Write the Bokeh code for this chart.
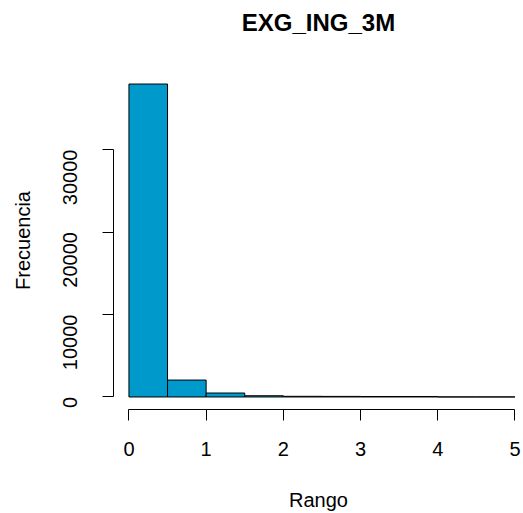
import math
from bokeh.plotting import figure
from bokeh.models import Range1d, FixedTicker, Title
from bokeh.embed import file_html
from bokeh.resources import INLINE

# Histogram of EXG_ING_3M: bin edges and counts per bin
breaks = [0.0, 0.5, 1.0, 1.5, 2.0, 2.5, 3.0, 3.5, 4.0, 4.5, 5.0]
counts = [37950, 2050, 480, 150, 80, 70, 60, 60, 10, 10]
x_ticks = [0, 1, 2, 3, 4, 5]
y_ticks = [0, 10000, 20000, 30000]

FONT = "Liberation Sans"
BAR_FILL = "#0099CC"

ymax = max(counts)
pad_y = 0.04 * ymax
pad_x = 0.04 * (breaks[-1] - breaks[0])

p = figure(
    width=523, height=513,
    output_backend="svg", toolbar_location=None,
    min_border_left=113, min_border_right=0,
    min_border_top=71, min_border_bottom=101,
    x_range=Range1d(breaks[0] - pad_x, breaks[0] - pad_x + 410 / 77.2),
    y_range=Range1d(-pad_y, ymax + pad_y),
)
p.outline_line_color = None
p.grid.visible = False
p.background_fill_color = "white"
p.border_fill_color = "white"

p.quad(left=breaks[:-1], right=breaks[1:], bottom=0, top=counts,
       fill_color=BAR_FILL, line_color="black", line_width=1)

# blank spacer between the frame and the main title
p.add_layout(Title(text=" ", text_font_size="28px", standoff=0), "above")

p.title.text = "EXG_ING_3M"
p.title.align = "center"
p.title.text_font = FONT
p.title.text_font_size = "24px"
p.title.text_font_style = "bold"
p.title.text_color = "black"
p.title.offset = 3
p.title.standoff = 5

for ax in (p.xaxis[0], p.yaxis[0]):
    ax.axis_line_color = "black"
    ax.major_tick_line_color = "black"
    ax.minor_tick_line_color = None
    ax.major_tick_in = 0
    ax.major_tick_out = 11
    ax.major_label_text_font = FONT
    ax.major_label_text_font_size = "20px"
    ax.major_label_text_color = "black"
    ax.axis_label_text_font = FONT
    ax.axis_label_text_font_size = "20px"
    ax.axis_label_text_font_style = "normal"
    ax.axis_label_text_color = "black"

xa = p.xaxis[0]
xa.ticker = FixedTicker(ticks=x_ticks)
xa.bounds = (breaks[0], breaks[-1])
xa.axis_label = "Rango"
xa.major_label_standoff = 21
xa.axis_label_standoff = 30

ya = p.yaxis[0]
ya.ticker = FixedTicker(ticks=y_ticks)
ya.bounds = (y_ticks[0], y_ticks[-1])
ya.axis_label = "Frecuencia"
ya.major_label_orientation = math.pi / 2
ya.major_label_standoff = 32
ya.axis_label_standoff = 20

open("out.html", "w").write(file_html(p, INLINE))
